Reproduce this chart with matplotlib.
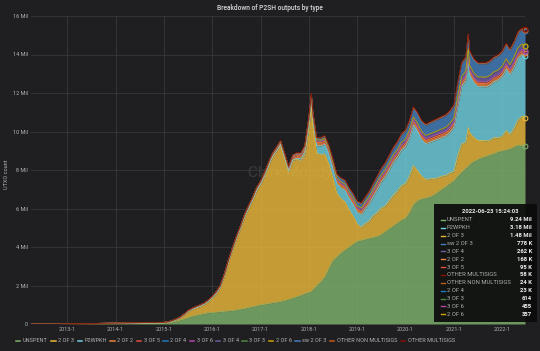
import matplotlib
matplotlib.use("Agg")
import matplotlib.pyplot as plt
import numpy as np
import pandas as pd
from matplotlib.patches import Rectangle
from matplotlib.lines import Line2D

plt.rcParams['font.family'] = ['Roboto', 'DejaVu Sans']

# ---------------- data ----------------
DATES = (["2012-04-01", "2012-07-01", "2012-10-01", "2013-01-01", "2013-04-01", "2013-07-01",
          "2013-10-01", "2014-01-01", "2014-04-01", "2014-07-01", "2014-10-01", "2015-01-01"]
         + [f"2015-{m:02d}-01" for m in range(2, 13)]
         + [f"2016-{m:02d}-01" for m in range(1, 13)]
         + [f"2017-{m:02d}-01" for m in range(1, 13)]
         + ["2018-01-01", "2018-01-20"] + [f"2018-{m:02d}-01" for m in range(2, 13)]
         + [f"2019-{m:02d}-01" for m in range(1, 13)]
         + [f"2020-{m:02d}-01" for m in range(1, 13)]
         + ["2021-01-01", "2021-02-01", "2021-03-01", "2021-04-01", "2021-04-20"]
         + [f"2021-{m:02d}-01" for m in range(5, 13)]
         + [f"2022-{m:02d}-01" for m in range(1, 7)] + ["2022-06-23"])

SERIES_NAMES = ["UNSPENT", "2 OF 3", "P2WPKH", "2 OF 2", "3 OF 5", "2 OF 4", "3 OF 6",
                "3 OF 4", "3 OF 3", "2 OF 6", "sw 2 OF 3", "OTHER NON MULTISIGS", "OTHER MULTISIGS"]
SERIES_COLORS = ["#7EB26D", "#EAB839", "#6ED0E0", "#EF843C", "#E24D42", "#1F78C1", "#BA43A9",
                 "#705DA0", "#508642", "#CCA300", "#447EBC", "#C15C17", "#890F02"]

# millions
UNSPENT_MIL = [
    0, 0, 0, 0.003, 0.006, 0.01, 0.014, 0.018, 0.022, 0.025, 0.028, 0.03,
    0.05, 0.09, 0.14, 0.2, 0.26, 0.33, 0.4, 0.45, 0.5, 0.54, 0.58,
    0.6, 0.62, 0.64, 0.66, 0.68, 0.7, 0.73, 0.77, 0.81, 0.86, 0.9, 0.95,
    1.0, 1.03, 1.06, 1.1, 1.13, 1.17, 1.22, 1.28, 1.35, 1.42, 1.5, 1.58,
    1.65, 1.7, 1.8, 2.0, 2.2, 2.45, 2.9, 3.3, 3.5, 3.7, 3.85, 4.0, 4.15,
    4.3, 4.35, 4.4, 4.45, 4.5, 4.55, 4.65, 4.8, 4.95, 5.1, 5.25, 5.4,
    5.5, 5.8, 6.2, 6.4, 6.5, 6.55, 6.6, 6.7, 6.85, 7.0, 7.15, 7.3,
    7.45, 7.7, 7.9, 8.1, 8.2, 8.3, 8.45, 8.55, 8.65, 8.7, 8.8, 8.85, 8.95,
    9.0, 9.05, 9.1, 9.2, 9.3, 9.25, 9.24]

TWO_OF_3_MIL = [
    0, 0, 0, 0.002, 0.005, 0.008, 0.012, 0.016, 0.02, 0.023, 0.026, 0.03,
    0.032, 0.049, 0.073, 0.107, 0.201, 0.304, 0.348, 0.391, 0.414, 0.468, 0.572,
    0.743, 0.968, 1.241, 1.815, 2.487, 3.112, 3.674, 4.177, 4.731, 5.123, 5.526, 5.97,
    6.261, 6.674, 7.136, 7.586, 7.845, 8.145, 7.433, 6.663, 7.157, 7.136, 6.979, 7.223,
    8.524, 9.607, 8.443, 6.872, 6.602, 6.383, 5.412, 4.291, 3.276, 2.81, 2.493, 1.927, 1.461,
    0.893, 0.679, 0.813, 0.892, 1.12, 1.245, 1.368, 1.343, 1.467, 1.591, 1.662, 1.786,
    1.799, 1.874, 2.035, 1.562, 1.187, 0.963, 0.937, 0.862, 0.745, 0.68, 0.563, 0.546,
    0.47, 1.094, 1.464, 1.337, 2.008, 1.633, 1.241, 0.985, 0.881, 0.816, 0.752, 0.837, 0.722,
    0.758, 0.999, 0.739, 0.972, 1.306, 1.547, 1.48]

P2WPKH_MIL = [
    0, 0, 0, 0, 0, 0, 0, 0, 0, 0, 0, 0,
    0, 0, 0, 0, 0, 0, 0, 0, 0, 0, 0,
    0, 0, 0, 0, 0, 0, 0, 0, 0, 0, 0, 0,
    0, 0, 0, 0, 0, 0, 0, 0, 0.02, 0.05, 0.1, 0.15,
    0.25, 0.3, 0.35, 0.4, 0.45, 0.5, 0.5, 0.5, 0.5, 0.55, 0.6, 0.6, 0.6,
    0.6, 0.65, 0.75, 0.9, 1.0, 1.2, 1.35, 1.5, 1.6, 1.7, 1.75, 1.85,
    1.9, 2.0, 2.1, 2.05, 1.9, 1.85, 1.9, 1.95, 2.0, 2.0, 2.05, 2.1,
    2.3, 2.6, 3.0, 3.2, 3.6, 3.0, 2.85, 2.8, 2.8, 2.8, 2.85, 2.9, 3.0,
    3.1, 3.2, 3.1, 3.15, 3.2, 3.2, 3.18]

# thousands
TWO_OF_2_K = [
    0, 0.5, 1, 4, 5, 6, 8, 10, 12, 14, 16, 18,
    20, 22, 25, 28, 32, 36, 40, 44, 48, 52, 56,
    60, 64, 68, 72, 76, 80, 84, 88, 92, 96, 100, 104,
    108, 112, 116, 120, 125, 130, 135, 140, 145, 150, 155, 160,
    165, 170, 170, 168, 165, 162, 160, 158, 156, 155, 154, 153, 152,
    152, 152, 153, 154, 155, 156, 157, 158, 159, 160, 161, 162,
    163, 164, 166, 165, 164, 164, 164, 165, 165, 165, 166, 166,
    166, 167, 168, 169, 172, 169, 168, 168, 168, 168, 168, 168, 168,
    168, 168, 168, 168, 168, 168, 168]

THREE_OF_5_K = [
    0, 0, 1, 1, 2, 2, 3, 3, 4, 4, 5, 5,
    6, 6, 7, 8, 9, 10, 11, 12, 13, 14, 15,
    16, 17, 18, 19, 20, 21, 22, 23, 24, 25, 26, 27,
    28, 29, 30, 32, 34, 36, 38, 40, 42, 44, 46, 48,
    50, 52, 54, 56, 58, 60, 62, 64, 66, 68, 70, 72, 74,
    76, 77, 78, 79, 80, 81, 82, 83, 84, 85, 86, 87,
    88, 88, 89, 89, 90, 90, 90, 90, 91, 91, 91, 92,
    92, 92, 93, 93, 94, 93, 93, 94, 94, 94, 94, 95, 95,
    95, 95, 95, 95, 95, 95, 95]

TWO_OF_4_K = [
    0, 0, 0, 0, 0, 1, 1, 1, 1, 2, 2, 2,
    2, 2, 3, 3, 3, 4, 4, 4, 5, 5, 5,
    6, 6, 6, 7, 7, 7, 8, 8, 8, 9, 9, 9,
    10, 10, 11, 11, 12, 12, 13, 13, 14, 14, 15, 15,
    16, 16, 16, 17, 17, 17, 18, 18, 18, 19, 19, 19, 20,
    20, 20, 20, 20, 21, 21, 21, 21, 21, 21, 22, 22,
    22, 22, 22, 22, 22, 22, 22, 22, 22, 22, 22, 22,
    22, 22, 23, 23, 23, 23, 23, 23, 23, 23, 23, 23, 23,
    23, 23, 23, 23, 23, 23, 23]

THREE_OF_6_K = [
    0, 0, 0, 0, 0, 0, 0, 0.01, 0.01, 0.02, 0.02, 0.03,
    0.03, 0.04, 0.04, 0.05, 0.05, 0.06, 0.06, 0.07, 0.07, 0.08, 0.08,
    0.09, 0.09, 0.1, 0.1, 0.11, 0.11, 0.12, 0.12, 0.13, 0.13, 0.14, 0.14,
    0.15, 0.15, 0.16, 0.17, 0.18, 0.19, 0.2, 0.21, 0.22, 0.23, 0.24, 0.25,
    0.26, 0.26, 0.27, 0.28, 0.29, 0.3, 0.31, 0.31, 0.32, 0.33, 0.33, 0.34, 0.34,
    0.35, 0.35, 0.36, 0.36, 0.37, 0.37, 0.38, 0.38, 0.38, 0.39, 0.39, 0.39,
    0.4, 0.4, 0.4, 0.41, 0.41, 0.41, 0.42, 0.42, 0.42, 0.42, 0.43, 0.43,
    0.43, 0.43, 0.44, 0.44, 0.44, 0.44, 0.44, 0.44, 0.45, 0.45, 0.45, 0.45, 0.45,
    0.45, 0.455, 0.455, 0.455, 0.455, 0.455, 0.455]

THREE_OF_4_K = [
    0, 0, 0, 0, 0, 0, 1, 1, 1, 1, 2, 2,
    2, 3, 3, 4, 4, 5, 5, 6, 6, 7, 7,
    8, 8, 9, 9, 10, 10, 11, 12, 12, 13, 14, 15,
    16, 17, 18, 20, 22, 24, 26, 28, 30, 32, 35, 38,
    42, 46, 48, 52, 56, 60, 64, 68, 72, 76, 80, 84, 88,
    92, 95, 98, 101, 104, 107, 110, 113, 116, 120, 124, 128,
    132, 136, 140, 144, 148, 152, 156, 160, 165, 170, 175, 180,
    185, 190, 196, 202, 206, 206, 208, 212, 216, 220, 224, 228, 232,
    236, 240, 244, 250, 256, 260, 262]

THREE_OF_3_K = [
    0, 0, 0, 0, 0.01, 0.01, 0.02, 0.02, 0.03, 0.03, 0.04, 0.04,
    0.05, 0.05, 0.06, 0.06, 0.07, 0.07, 0.08, 0.08, 0.09, 0.09, 0.1,
    0.11, 0.12, 0.13, 0.14, 0.15, 0.16, 0.17, 0.18, 0.19, 0.2, 0.21, 0.22,
    0.23, 0.24, 0.25, 0.26, 0.27, 0.28, 0.29, 0.3, 0.31, 0.32, 0.33, 0.34,
    0.35, 0.35, 0.36, 0.37, 0.38, 0.39, 0.4, 0.41, 0.42, 0.43, 0.44, 0.45, 0.46,
    0.47, 0.47, 0.48, 0.48, 0.49, 0.49, 0.5, 0.5, 0.51, 0.51, 0.52, 0.52,
    0.53, 0.53, 0.54, 0.54, 0.55, 0.55, 0.56, 0.56, 0.57, 0.57, 0.58, 0.58,
    0.59, 0.59, 0.59, 0.6, 0.6, 0.6, 0.6, 0.6, 0.61, 0.61, 0.61, 0.61, 0.61,
    0.61, 0.61, 0.614, 0.614, 0.614, 0.614, 0.614]

TWO_OF_6_K = [
    0, 0, 0, 0, 0, 0, 0, 0, 0, 0.01, 0.01, 0.01,
    0.02, 0.02, 0.02, 0.03, 0.03, 0.03, 0.04, 0.04, 0.04, 0.05, 0.05,
    0.06, 0.06, 0.07, 0.07, 0.08, 0.08, 0.09, 0.09, 0.1, 0.1, 0.11, 0.11,
    0.12, 0.12, 0.13, 0.13, 0.14, 0.14, 0.15, 0.15, 0.16, 0.16, 0.17, 0.17,
    0.18, 0.18, 0.19, 0.19, 0.2, 0.2, 0.21, 0.21, 0.22, 0.22, 0.23, 0.23, 0.24,
    0.24, 0.25, 0.25, 0.26, 0.26, 0.27, 0.27, 0.28, 0.28, 0.29, 0.29, 0.3,
    0.3, 0.3, 0.31, 0.31, 0.31, 0.32, 0.32, 0.32, 0.33, 0.33, 0.33, 0.34,
    0.34, 0.34, 0.34, 0.34, 0.35, 0.35, 0.35, 0.35, 0.35, 0.35, 0.35, 0.35, 0.35,
    0.355, 0.355, 0.357, 0.357, 0.357, 0.357, 0.357]

SW_2_OF_3_K = [
    0, 0, 0, 0, 0, 0, 0, 0, 0, 0, 0, 0,
    0, 0, 0, 0, 0, 0, 0, 0, 0, 0, 0,
    0, 0, 0, 0, 0, 0, 0, 0, 0, 0, 0, 0,
    0, 0, 0, 0, 0, 0, 0, 0, 5, 15, 30, 45,
    60, 65, 75, 90, 105, 120, 135, 150, 160, 170, 180, 190, 200,
    210, 220, 230, 245, 260, 280, 300, 320, 340, 360, 380, 400,
    430, 450, 480, 500, 520, 540, 560, 580, 590, 600, 610, 620,
    640, 660, 680, 700, 720, 700, 690, 690, 690, 700, 710, 720, 730,
    740, 745, 750, 760, 770, 775, 778]

OTHER_NON_MULTISIGS_K = [
    0, 0, 0, 0, 1, 1, 1, 1, 1, 2, 2, 2,
    2, 2, 2, 3, 3, 3, 3, 4, 4, 4, 4,
    5, 5, 5, 5, 6, 6, 6, 6, 7, 7, 7, 7,
    8, 8, 8, 9, 9, 9, 10, 10, 10, 11, 11, 11,
    12, 12, 12, 12, 13, 13, 13, 14, 14, 14, 15, 15, 15,
    16, 16, 16, 17, 17, 17, 18, 18, 18, 18, 19, 19,
    19, 19, 20, 20, 20, 20, 21, 21, 21, 21, 21, 22,
    22, 22, 22, 22, 22, 22, 22, 23, 23, 23, 23, 23, 23,
    23, 23, 24, 24, 24, 24, 24]

OTHER_MULTISIGS_K = [
    0, 0, 1, 1, 2, 2, 3, 3, 4, 4, 5, 5,
    6, 6, 7, 7, 8, 8, 9, 9, 10, 10, 11,
    12, 12, 13, 13, 14, 14, 15, 16, 16, 17, 18, 18,
    19, 20, 21, 22, 23, 24, 25, 26, 27, 28, 29, 30,
    31, 32, 32, 33, 34, 35, 36, 37, 38, 38, 39, 40, 40,
    41, 41, 42, 42, 43, 43, 44, 44, 45, 45, 46, 46,
    47, 47, 48, 48, 49, 49, 50, 50, 51, 51, 52, 52,
    53, 53, 54, 54, 55, 54, 55, 55, 55, 56, 56, 56, 57,
    57, 57, 57, 58, 58, 58, 58]

Y_TICKS = [0, 2e6, 4e6, 6e6, 8e6, 10e6, 12e6, 14e6, 16e6]
Y_TICK_LABELS = ["0", "2 Mil", "4 Mil", "6 Mil", "8 Mil", "10 Mil", "12 Mil", "14 Mil", "16 Mil"]
X_TICK_YEARS = [2013, 2014, 2015, 2016, 2017, 2018, 2019, 2020, 2021, 2022]
X_TICK_LABELS = [f"{y}-1" for y in X_TICK_YEARS]
TITLE = "Breakdown of P2SH outputs by type"
Y_LABEL = "UTXO count"
TOOLTIP_TIME = "2022-06-23 15:24:03"

# ---------------- build ----------------
W, H = 540, 351
BG = "#1f1f21"
fig = plt.figure(figsize=(W / 100, H / 100), dpi=100, facecolor=BG)


def fx(px):
    return px / W


def fy(py):
    return 1 - py / H


ax = fig.add_axes([fx(31), fy(324), fx(525) - fx(31), fy(16) - fy(324)])
ax.set_facecolor(BG)

x = pd.to_datetime(DATES)
vals = [np.array(UNSPENT_MIL) * 1e6, np.array(TWO_OF_3_MIL) * 1e6, np.array(P2WPKH_MIL) * 1e6,
        np.array(TWO_OF_2_K) * 1e3, np.array(THREE_OF_5_K) * 1e3, np.array(TWO_OF_4_K) * 1e3,
        np.array(THREE_OF_6_K) * 1e3, np.array(THREE_OF_4_K) * 1e3, np.array(THREE_OF_3_K) * 1e3,
        np.array(TWO_OF_6_K) * 1e3, np.array(SW_2_OF_3_K) * 1e3,
        np.array(OTHER_NON_MULTISIGS_K) * 1e3, np.array(OTHER_MULTISIGS_K) * 1e3]
vals = np.vstack(vals)
tops = np.cumsum(vals, axis=0)
bases = np.vstack([np.zeros(len(x)), tops[:-1]])

# faint watermark, mostly hidden under the fills
ax.text(pd.Timestamp("2016-10-01"), 7.85e6, "Clark Moody", color="#3c3c3e", fontsize=11,
        ha="left", va="center", zorder=1)

for i, c in enumerate(SERIES_COLORS):
    ax.fill_between(x, bases[i], tops[i], color=c, alpha=0.82, lw=0, zorder=2)
for i, c in enumerate(SERIES_COLORS):
    ax.plot(x, tops[i], color=c, lw=0.5, zorder=3)
# hover markers at last point
for i, c in enumerate(SERIES_COLORS):
    ax.plot([x[-1]], [tops[i][-1]], 'o', mfc='none', mec=c, ms=3.4, mew=0.8, zorder=6, clip_on=False)

ax.set_xlim(pd.Timestamp("2012-04-01"), pd.Timestamp("2022-06-23"))
ax.set_ylim(0, 16e6)
ax.set_yticks(Y_TICKS)
ax.set_yticklabels(Y_TICK_LABELS)
ax.set_xticks([pd.Timestamp(f"{y}-01-01") for y in X_TICK_YEARS])
ax.set_xticklabels(X_TICK_LABELS)
ax.tick_params(axis='both', length=0, labelsize=4.0, colors="#b3b3b5", pad=2.5)
ax.grid(True, color="#38383b", lw=0.6, zorder=0)
ax.set_axisbelow(True)
for s in ax.spines.values():
    s.set_visible(False)

fig.text(0.5, fy(8), TITLE, ha="center", va="center", fontsize=4.8, color="#d8d9da", weight="medium")
fig.text(fx(7), fy(174), Y_LABEL, rotation=90, ha="center", va="center", fontsize=4.0, color="#b3b3b5")

# legend
handles = [Line2D([0], [0], color=c, lw=1.1) for c in SERIES_COLORS]
leg = fig.legend(handles, SERIES_NAMES, loc="center left", bbox_to_anchor=(fx(16), fy(341)),
                 ncol=len(SERIES_NAMES), frameon=False, fontsize=4.0, handlelength=0.8,
                 handletextpad=0.45, columnspacing=0.62, labelcolor="#b3b3b5", borderaxespad=0,
                 borderpad=0)

# tooltip
fig.patches.append(Rectangle((fx(434), fy(322)), fx(537) - fx(434), fy(204) - fy(322),
                             transform=fig.transFigure, facecolor="#0b0b0c", alpha=0.93,
                             edgecolor="none", zorder=10))
fig.text(fx(490), fy(211), TOOLTIP_TIME, ha="center", va="center", fontsize=4.2,
         color="#e6e6e6", weight="bold", zorder=11)


def fmt(v):
    if v >= 1e6:
        return f"{v / 1e6:.2f} Mil"
    if v >= 1e3:
        return f"{v / 1e3:.0f} K"
    return f"{v:.0f}"


last = vals[:, -1]
order = np.argsort(-last, kind="stable")
for row, i in enumerate(order):
    yy = fy(220 + 7.85 * row)
    fig.lines.append(Line2D([fx(441), fx(445)], [yy, yy], transform=fig.transFigure,
                            color=SERIES_COLORS[i], lw=1.0, zorder=11))
    fig.text(fx(447), yy, SERIES_NAMES[i], ha="left", va="center", fontsize=4.2,
             color="#b0b0b0", zorder=11)
    fig.text(fx(532), yy, fmt(last[i]), ha="right", va="center", fontsize=4.2,
             color="#f0f0f0", weight="bold", zorder=11)

fig.savefig("out.png", dpi=100, facecolor=BG)
